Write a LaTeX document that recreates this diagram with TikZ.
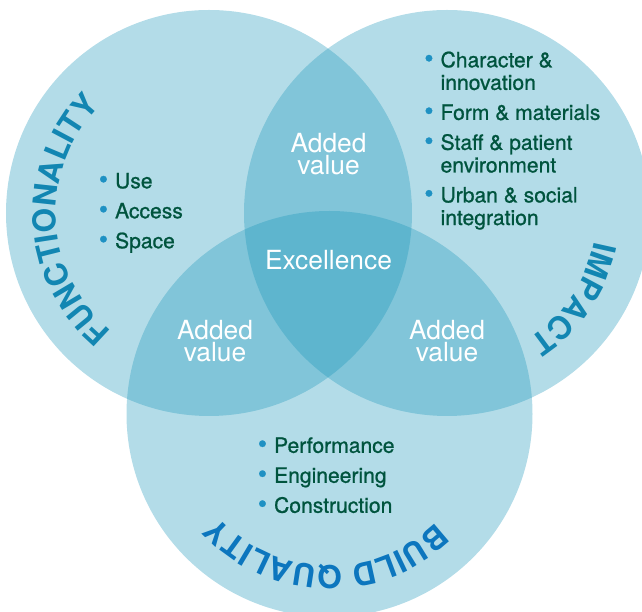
\documentclass[tikz,border=0pt]{standalone}
\usepackage{fontspec}
\setmainfont{TeX Gyre Heros}
\newfontfamily\listfont[FakeBold=0.9]{TeX Gyre Heros}
\usetikzlibrary{decorations.text}
\definecolor{venncol}{RGB}{25,149,185}
\definecolor{listgreen}{RGB}{0,84,62}
\definecolor{dotblue}{RGB}{30,145,195}
\definecolor{labteal}{RGB}{18,134,178}
\definecolor{labblue}{RGB}{12,118,190}
\newcommand{\bul}{{\color{dotblue}\fontsize{15}{12}\selectfont\textbullet}}
\newcommand{\curvelabel}[6]% center, radius, start, end, colour, text
{\path[decorate,decoration={text along path,text align=center,text color=#5,
  text={|\fontsize{18}{18}\selectfont\bfseries|#6}}]
  (#1) ++(#3:#2) arc[start angle=#3,end angle=#4,radius=#2];
}

\begin{document}
\begin{tikzpicture}[
  vennfill/.style={fill=venncol,fill opacity=0.33},
  valtext/.style={text=white,align=center,inner sep=0pt,font=\fontsize{15}{13}\selectfont},
  listtext/.style={anchor=base west,inner sep=0pt,text=listgreen,font=\listfont\fontsize{12}{12.86}\selectfont}]
			\useasboundingbox (0,0) rectangle (12.84,12.24);
			\coordinate (L) at (4.18,7.98);
			\coordinate (R) at (8.94,7.98);
			\coordinate (B) at (6.59,3.96);
			\fill[vennfill] (L) circle (4.06);
			\fill[vennfill] (R) circle (4.06);
			\fill[vennfill] (B) circle (4.06);
			% lens and centre texts (base = last line)
			\node[valtext,anchor=base] (excel) at (6.57,6.854) {Excellence};
			\node[valtext,anchor=base] (topval) at (6.57,8.74) {Added\\value};
			\node[valtext,anchor=base] (leftval) at (4.3,5.0) {Added\\value};
			\node[valtext,anchor=base] (rightval) at (8.94,5.0) {Added\\value};
			% bullet lists
			\node[listtext] (funclist) at (1.97,8.474) {\begin{tabular}[t]{@{}l@{\hspace{4pt}}l@{}}
				\bul & Use \\[4.2pt]
				\bul & Access \\[4.2pt]
				\bul & Space
			\end{tabular}};
			\node[listtext] (implist) at (8.48,10.894) {\begin{tabular}[t]{@{}l@{\hspace{4pt}}l@{}}
				\bul & Character \& \\
				     & innovation \\[4.2pt]
				\bul & Form \& materials \\[4.2pt]
				\bul & Staff \& patient \\
				     & environment \\[4.2pt]
				\bul & Urban \& social \\
				     & integration
			\end{tabular}};
			\node[listtext] (buildlist) at (5.15,3.184) {\begin{tabular}[t]{@{}l@{\hspace{4pt}}l@{}}
				\bul & Performance \\[4.2pt]
				\bul & Engineering \\[4.2pt]
				\bul & Construction
			\end{tabular}};
			% curved headings
			\curvelabel{L}{3.06}{273}{93}{labteal}{FUNCTIONALITY}
			\curvelabel{R}{3.0}{26}{-94}{labteal}{IMPACT}
			\curvelabel{B}{3.04}{-1.5}{-181.5}{labblue}{BUILD QUALITY}
\end{tikzpicture}
\end{document}
